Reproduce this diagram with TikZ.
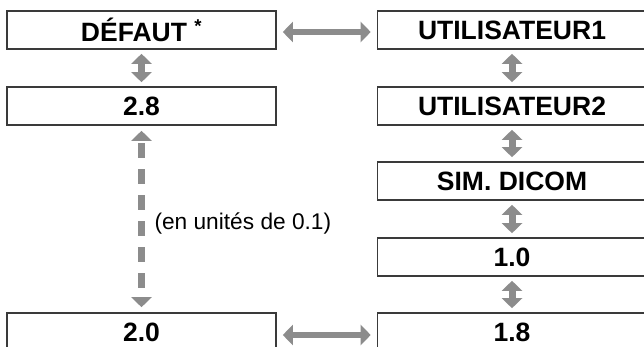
\documentclass[tikz,border=0pt]{standalone}
\usepackage{fontspec}
\setmainfont{Liberation Sans}
\usetikzlibrary{arrows.meta}

\definecolor{boxline}{HTML}{3A3A3A}
\definecolor{arrowgray}{HTML}{8C8C8C}

\tikzset{
  modebox/.style={draw=boxline, fill=white, line width=1.6pt,
    minimum width=269pt, minimum height=38pt, inner sep=0pt,
    font=\fontsize{26.5}{30}\selectfont\bfseries},
  dblarrow/.style={draw=arrowgray, line width=7pt,
    {Triangle[width=20pt,length=10pt]}-{Triangle[width=20pt,length=10pt]}},
}

\begin{document}
\begin{tikzpicture}[x=1pt,y=1pt]
\useasboundingbox (0,0) rectangle (644,-347);
\clip (0,0) rectangle (644,-347);

% Left column
\node[modebox] (defaut) at (141.5, -30) {DÉFAUT \textsuperscript{*}};
\node[modebox] (val28) at (141.5, -106) {2.8};
\node[modebox] (val20) at (141.5, -332) {2.0};

% Right column
\node[modebox] (user1) at (512, -30) {UTILISATEUR1};
\node[modebox] (user2) at (512, -106) {UTILISATEUR2};
\node[modebox] (dicom) at (512, -181) {SIM. DICOM};
\node[modebox] (val10) at (512, -257) {1.0};
\node[modebox] (val18) at (512, -332) {1.8};

% Between the columns
\draw[dblarrow,line width=6pt,shorten <=6pt,shorten >=6pt] ([yshift=-2pt]defaut.east) -- ([yshift=-2pt]user1.west);
\draw[dblarrow,line width=6pt,shorten <=6pt,shorten >=6pt] ([yshift=-3pt]val20.east) -- ([yshift=-3pt]val18.west);

% Down the left column
\draw[dblarrow,shorten <=4pt,shorten >=4pt] (defaut) -- (val28);
\draw[dblarrow,dash pattern=on 15pt off 11pt,dash phase=-3pt,
  shorten <=5pt,shorten >=5pt] (val28) -- (val20);
\node[anchor=west,font=\fontsize{22.7}{27}\selectfont] (unitnote) at (151, -223) {(en unités de 0.1)};

% Down the right column
\draw[dblarrow,shorten <=4pt,shorten >=4pt] (user1) -- (user2);
\draw[dblarrow,shorten <=4pt,shorten >=4pt] (user2) -- (dicom);
\draw[dblarrow,shorten <=4pt,shorten >=4pt] (dicom) -- (val10);
\draw[dblarrow,shorten <=4pt,shorten >=4pt] (val10) -- (val18);

\end{tikzpicture}
\end{document}
